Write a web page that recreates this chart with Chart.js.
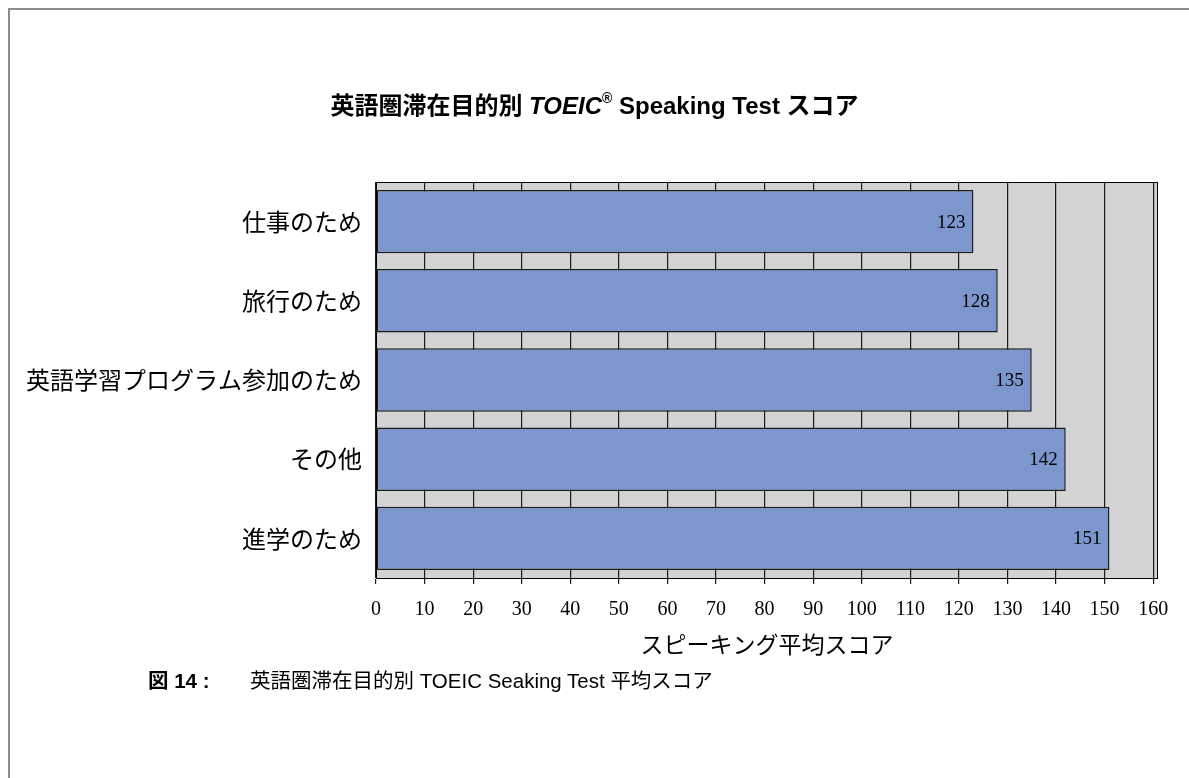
<!DOCTYPE html>
<html lang="ja">
<head>
<meta charset="utf-8">
<script src="https://cdn.jsdelivr.net/npm/chart.js@4/dist/chart.umd.min.js"></script>
<style>
  html, body { margin: 0; padding: 0; background: #fff; }
  body { width: 1189px; height: 778px; position: relative; overflow: hidden; }
  #frame { position: absolute; left: 8px; top: 8px; width: 1300px; height: 900px;
           border-left: 2px solid #8c8c8c; border-top: 2px solid #8c8c8c; }
  #chart { position: absolute; left: 0; top: 0; }
  #title { position: absolute; left: 0; top: 86px; width: 1189px; text-align: center;
           font: bold 24px "Liberation Sans", "Noto Sans CJK JP", sans-serif; color: #000; }
  #title sup { font-size: 14px; position: relative; top: -2px; }
  .cjk { font-family: "Noto Sans CJK JP", sans-serif; }
  #caption { position: absolute; left: 148px; top: 664px; font: 20.5px "Liberation Sans", "Noto Sans CJK JP", sans-serif; }
  #caption b { display: inline-block; width: 102px; }
</style>
</head>
<body>
<div id="frame"></div>
<canvas id="chart" width="1189" height="778"></canvas>
<div id="title"><span class="cjk">英語圏滞在目的別</span> <i>TOEIC</i><sup>®</sup> Speaking Test <span class="cjk">スコア</span></div>
<div id="caption"><b><span class="cjk">図</span> 14 :</b><span class="cjk">英語圏滞在目的別</span> TOEIC Seaking Test <span class="cjk">平均スコア</span></div>
<script>
'use strict';

// カテゴリと値（上から順）
const purposes = ['仕事のため', '旅行のため', '英語学習プログラム参加のため', 'その他', '進学のため'];
const scores = [123, 128, 135, 142, 151];
// 目盛り
const xTicks = [0, 10, 20, 30, 40, 50, 60, 70, 80, 90, 100, 110, 120, 130, 140, 150, 160];
const axisTitle = 'スピーキング平均スコア';

// プロット背景と外枠
const plotBackground = {
    id: 'plotBackground',
    beforeDraw(chart) {
        const { ctx, chartArea: a } = chart;
        ctx.save();
        ctx.fillStyle = '#d3d3d3';
        ctx.fillRect(a.left, a.top, a.right - a.left, a.bottom - a.top);
        ctx.restore();
    },
    afterDraw(chart) {
        const { ctx, chartArea: a } = chart;
        ctx.save();
        ctx.strokeStyle = '#000';
        ctx.lineWidth = 1;
        ctx.strokeRect(a.left + 0.5, a.top + 0.5, a.right - a.left - 1, a.bottom - a.top);
        ctx.restore();
    },
};

// 棒の右端に値を表示
const valueLabels = {
    id: 'valueLabels',
    afterDatasetsDraw(chart) {
        const ctx = chart.ctx;
        const meta = chart.getDatasetMeta(0);
        ctx.save();
        ctx.font = '19px "Liberation Serif", serif';
        ctx.fillStyle = '#000';
        ctx.textAlign = 'right';
        ctx.textBaseline = 'middle';
        meta.data.forEach((bar, i) => {
            ctx.fillText(String(scores[i]), bar.x - 8, bar.y + 1);
        });
        ctx.restore();
    },
};

const ctx = document.getElementById('chart').getContext('2d');
new Chart(ctx, {
    type: 'bar',
    data: {
        labels: purposes,
        datasets: [
            {
                data: scores,
                backgroundColor: '#7b97cd',
                borderColor: '#1a1a1a',
                borderWidth: 1.5,
                borderSkipped: false,
                categoryPercentage: 1,
                barPercentage: 0.8,
            },
        ],
    },
    options: {
        indexAxis: 'y',
        responsive: false,
        animation: false,
        layout: { padding: { left: 0, top: 182, right: 31, bottom: 119 } },
        plugins: {
            legend: { display: false },
            tooltip: { enabled: false },
        },
        scales: {
            x: {
                min: 0,
                max: 161,
                afterBuildTicks(scale) {
                    scale.ticks = xTicks.map((v) => ({ value: v }));
                },
                afterFit(scale) {
                    scale.height = 81;
                },
                ticks: {
                    color: '#000',
                    padding: 14,
                    maxRotation: 0,
                    autoSkip: false,
                    font: { family: '"Liberation Serif", serif', size: 20 },
                },
                grid: { color: '#1a1a1a', lineWidth: 1.2, tickLength: 6, drawTicks: true },
                border: { display: true, color: '#000', width: 1 },
                title: {
                    display: true,
                    text: axisTitle,
                    color: '#000',
                    padding: { top: 0, bottom: 1 },
                    font: { family: '"Noto Sans CJK JP", sans-serif', size: 23 },
                },
            },
            y: {
                afterFit(scale) {
                    scale.width = 376;
                },
                ticks: {
                    color: '#000',
                    padding: 14,
                    font: { family: '"Noto Sans CJK JP", sans-serif', size: 24 },
                },
                grid: { display: false, drawTicks: false },
                border: { display: true, color: '#000', width: 1 },
            },
        },
    },
    plugins: [plotBackground, valueLabels],
});
</script>
</body>
</html>
